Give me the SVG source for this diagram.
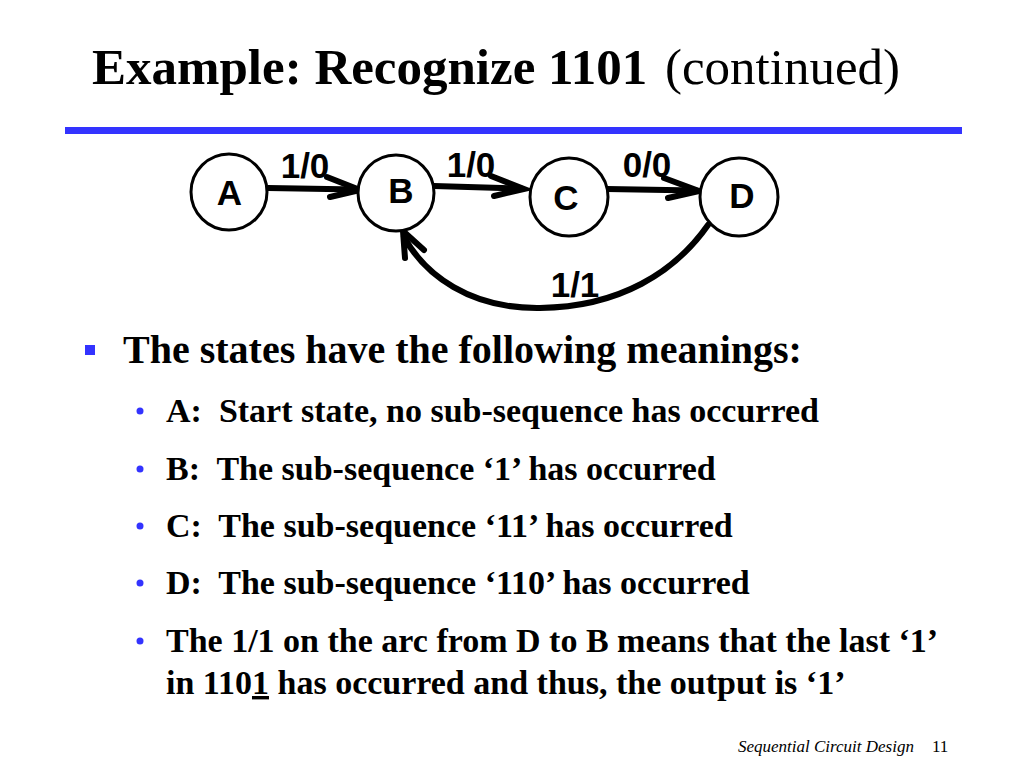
<svg xmlns="http://www.w3.org/2000/svg" width="1024" height="768" viewBox="0 0 1024 768">
<style>
.ser{font-family:"Liberation Serif","Times New Roman",serif;fill:#000}
.b{font-weight:bold}
.lbl{font-family:"Liberation Sans",Arial,sans-serif;font-weight:bold;font-size:35px;fill:#000;text-anchor:middle}
.node{fill:#fff;stroke:#000;stroke-width:3}
.edge{fill:none;stroke:#000;stroke-width:6;stroke-linecap:round;stroke-linejoin:miter}
.blue{fill:#3333ff}
</style>
<rect width="1024" height="768" fill="#fff"/>
<g id="title">
<text class="ser" x="92" y="84" font-size="51"><tspan class="b">Example: Recognize 1101</tspan><tspan x="665">(continued)</tspan></text>
<rect class="blue" x="65" y="127" width="897" height="7"/>
</g>
<g id="connectors">
<g id="e-AB"><line class="edge" x1="268" y1="188" x2="357" y2="189.5"/><polyline class="edge" points="327,177 360,190 330,197"/></g>
<g id="e-BC"><line class="edge" x1="434" y1="186" x2="521" y2="188.5"/><polyline class="edge" points="491,176 524,189 494,196"/></g>
<g id="e-CD"><line class="edge" x1="607" y1="189" x2="696" y2="190.5"/><polyline class="edge" points="664,178 699,191 668,198"/></g>
<g id="e-DB"><path class="edge" stroke-width="8" d="M 708 225 C 675 272 620 307 540 308 C 470 309 425 275 404 237"/><polyline class="edge" stroke-width="7" points="405,258 403,231 424,250"/></g>
</g>
<g id="labels">
<text class="lbl" x="305" y="178">1/0</text>
<text class="lbl" x="471" y="177">1/0</text>
<text class="lbl" x="647" y="177">0/0</text>
<text class="lbl" x="575" y="297">1/1</text>
</g>
<g id="node-A"><circle class="node" cx="229" cy="192" r="38"/><text class="lbl" x="229.5" y="205">A</text></g>
<g id="node-B"><circle class="node" cx="396" cy="193" r="38"/><text class="lbl" x="401" y="203">B</text></g>
<g id="node-C"><circle class="node" cx="569" cy="197" r="39"/><text class="lbl" x="566" y="210">C</text></g>
<g id="node-D"><circle class="node" cx="739" cy="197" r="39"/><text class="lbl" x="742" y="208">D</text></g>
<g id="body">
<rect class="blue" x="85" y="345" width="10" height="10"/>
<text class="ser b" x="123" y="363" font-size="40">The states have the following meanings:</text>
<circle class="blue" cx="140" cy="411" r="3.5"/>
<text class="ser b" x="166" y="422" font-size="34" xml:space="preserve">A:  Start state, no sub-sequence has occurred</text>
<circle class="blue" cx="140" cy="469" r="3.5"/>
<text class="ser b" x="166" y="480" font-size="34" xml:space="preserve">B:  The sub-sequence ‘1’ has occurred</text>
<circle class="blue" cx="140" cy="526" r="3.5"/>
<text class="ser b" x="166" y="537" font-size="34" xml:space="preserve">C:  The sub-sequence ‘11’ has occurred</text>
<circle class="blue" cx="140" cy="583" r="3.5"/>
<text class="ser b" x="166" y="594" font-size="34" xml:space="preserve">D:  The sub-sequence ‘110’ has occurred</text>
<circle class="blue" cx="140" cy="641" r="3.5"/>
<text class="ser b" x="166" y="652" font-size="34">The 1/1 on the arc from D to B means that the last ‘1’</text>
<text class="ser b" x="166" y="694" font-size="34">in 110<tspan text-decoration="underline">1</tspan> has occurred and thus, the output is ‘1’</text>
</g>
<g id="footer">
<text class="ser" x="738" y="752" font-size="17" font-style="italic">Sequential Circuit Design</text>
<text class="ser" x="932" y="752" font-size="17">11</text>
</g>
</svg>
